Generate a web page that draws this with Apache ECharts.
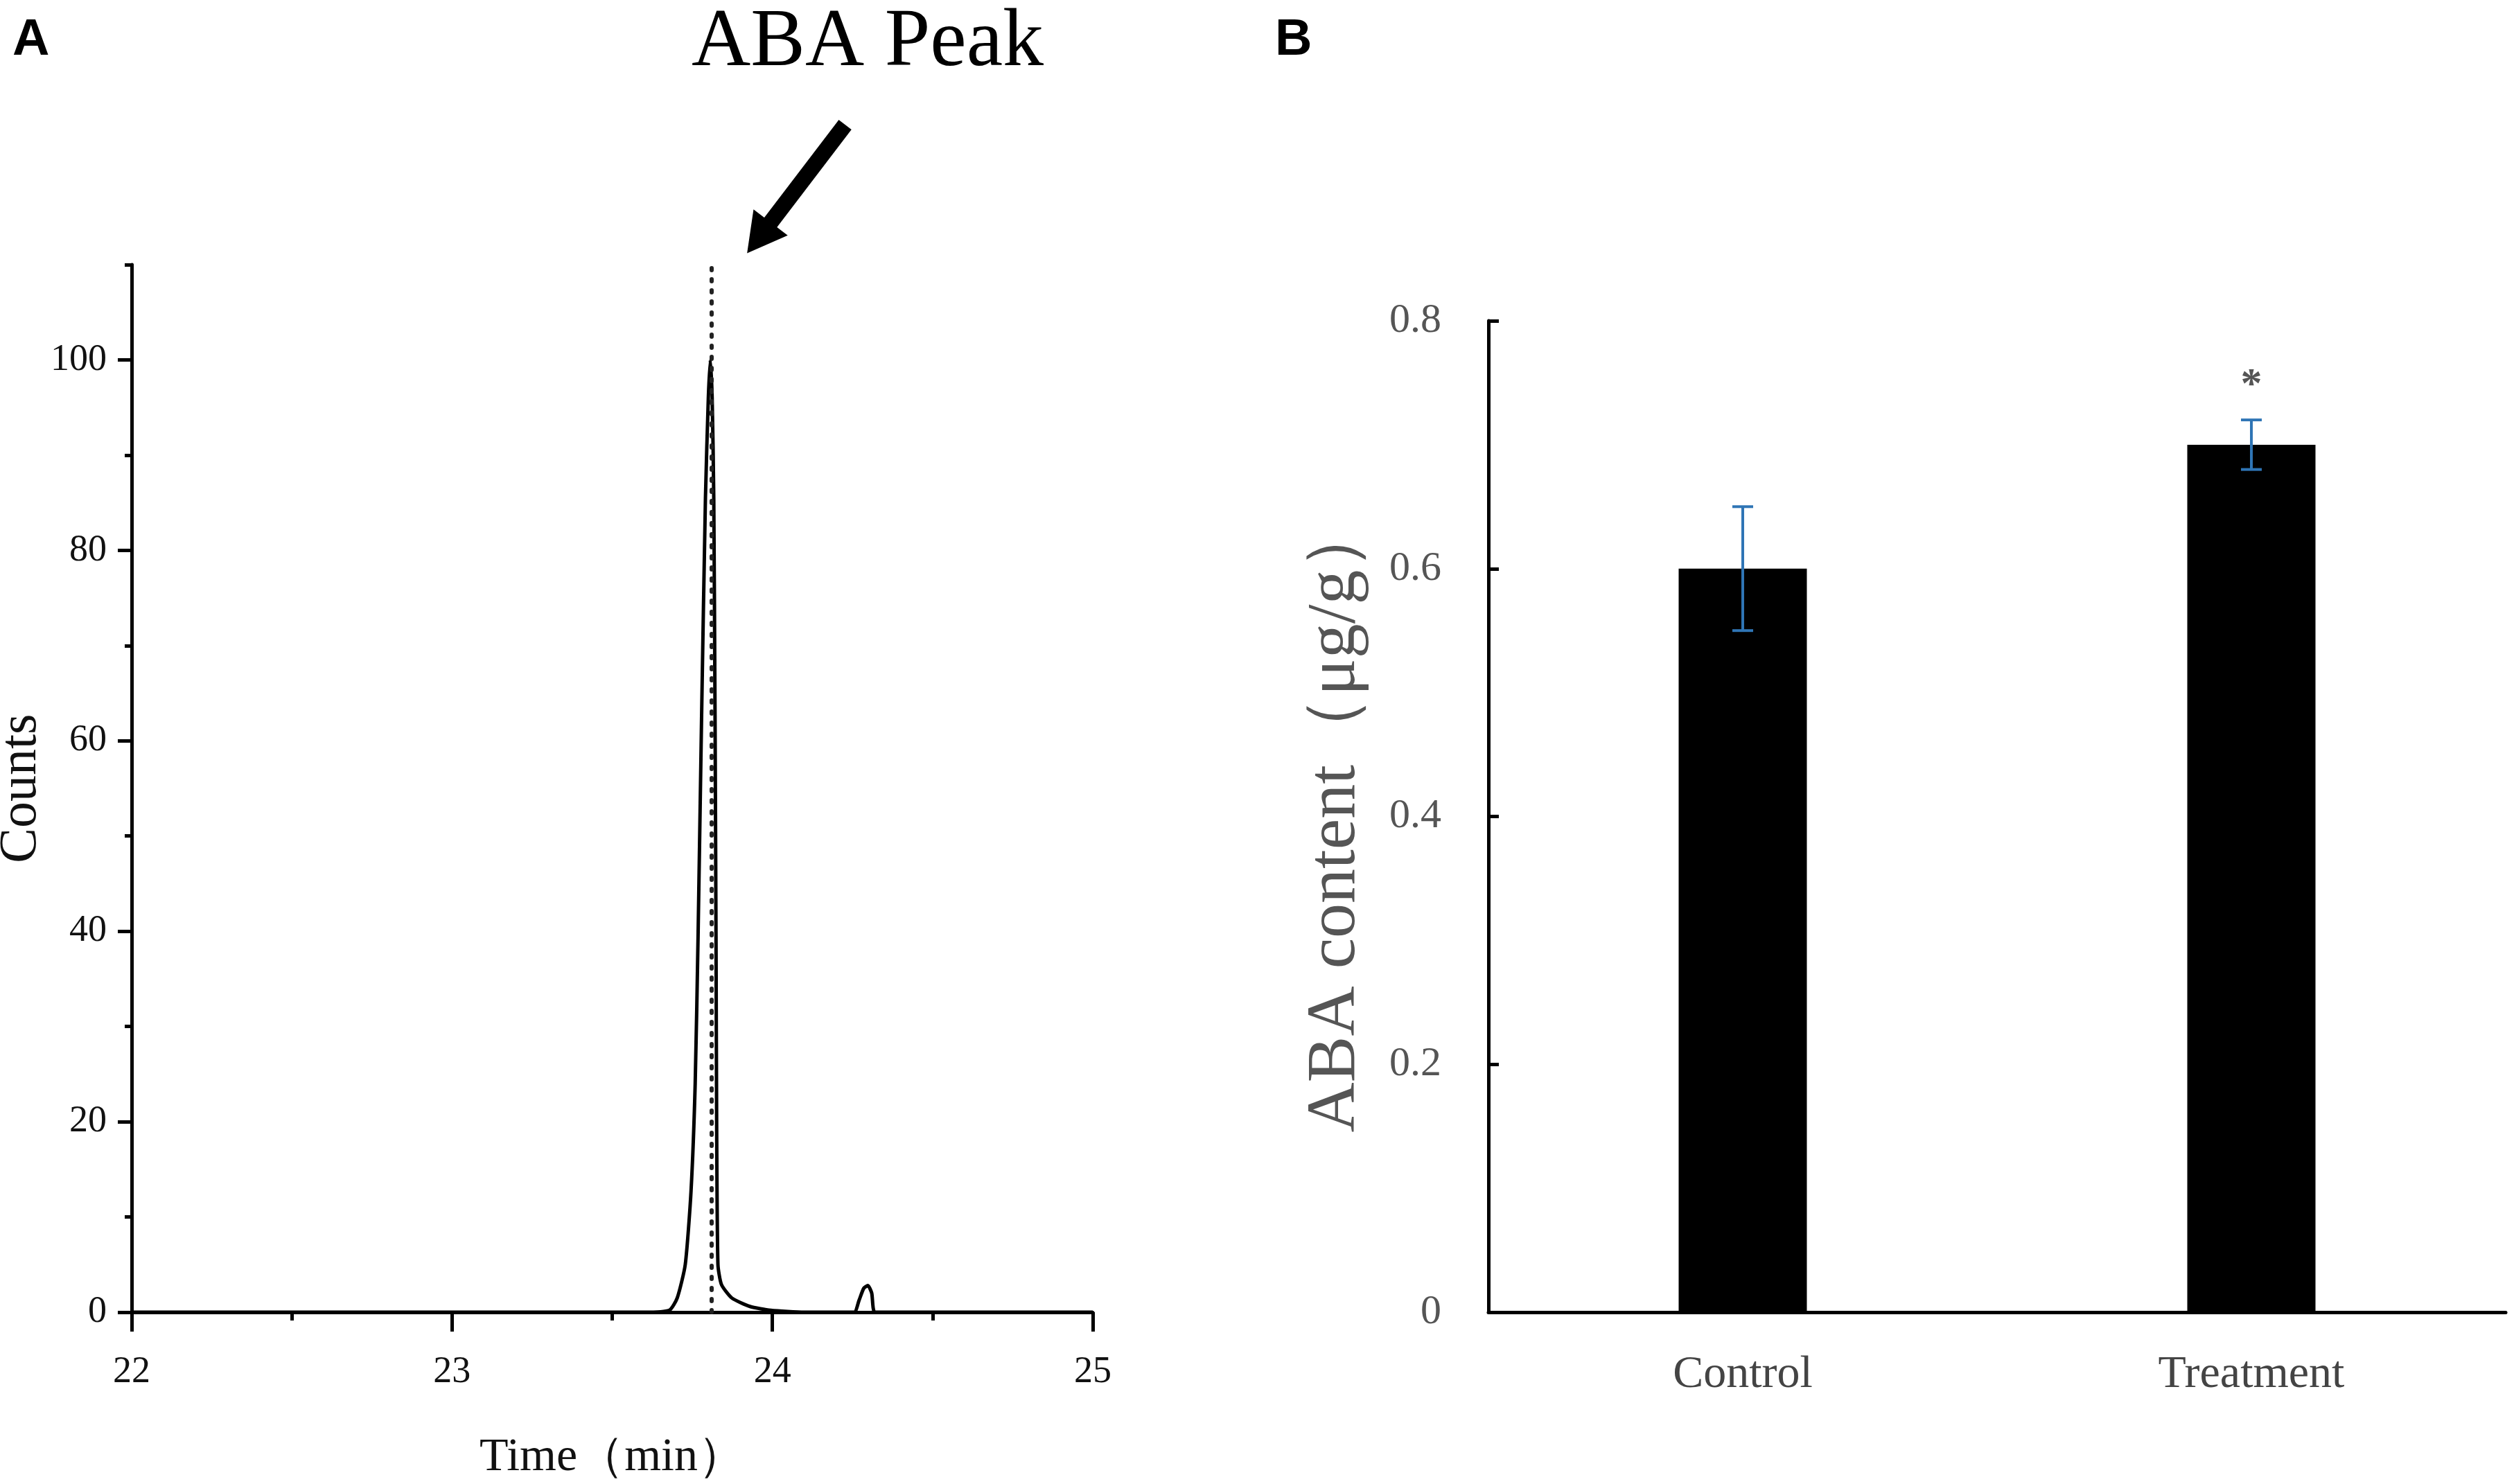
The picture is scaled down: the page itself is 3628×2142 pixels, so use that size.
<!DOCTYPE html>
<html>
<head>
<meta charset="utf-8">
<script src="https://cdn.jsdelivr.net/npm/echarts@6/dist/echarts.min.js"></script>
<style>
  html, body { margin: 0; padding: 0; background: #fff; }
  #main { width: 3628px; height: 2142px; }
</style>
</head>
<body>
<div id="main"></div>
<script>
// panel A: chromatogram (time in min, relative counts)
const timeMin = [22, 23.6, 23.678, 23.703, 23.728, 23.746, 23.759, 23.768, 23.779, 23.791, 23.8, 23.806,
  23.812, 23.817, 23.821, 23.824, 23.826, 23.83, 23.841, 23.873, 23.93, 23.995, 24.1,
  24.255, 24.27, 24.285, 24.298, 24.31, 24.32, 24.4, 25]
const counts = [0, 0, 0.2, 1.5, 5, 12.7, 24, 39.5, 62.6, 85.5, 96, 100,
  96, 85.5, 62.6, 39.5, 20, 5, 2.9, 1.5, 0.6, 0.2, 0,
  0, 1.2, 2.5, 2.8, 2.0, 0, 0, 0]
const peakTime = 23.806
const countTicks = [0, 20, 40, 60, 80, 100]
const timeTicks = [22, 23, 24, 25]
// arrow pointing at the peak, in data units (time, counts)
const arrowFrom = [24.227, 124.7]
const arrowTo = [23.921, 111.2]

// panel B: ABA content
const groups = ['Control', 'Treatment']
const abaMean = [0.6, 0.7]
const abaErr = [0.05, 0.02]
const sigMarks = ['', '*']

const serif = 'Liberation Serif'
let chart = echarts.init(document.getElementById('main'))

let option = {
  backgroundColor: '#fff',
  animation: false,
  grid: [
    { left: 190, top: 382, width: 1387, bottom: 248, outerBoundsMode: 'none' },
    { left: 2148, top: 463, width: 1468, bottom: 248, outerBoundsMode: 'none' }
  ],
  xAxis: [
    {
      type: 'value', gridIndex: 0, min: timeTicks[0], max: timeTicks[timeTicks.length - 1], interval: 1,
      name: 'Time（min）', nameLocation: 'middle', nameGap: 176,
      nameTextStyle: { fontFamily: serif, fontSize: 68, color: '#111' },
      axisLine: { lineStyle: { color: '#000', width: 5 } },
      axisTick: { inside: false, length: 28, lineStyle: { color: '#000', width: 5 } },
      minorTick: { show: true, splitNumber: 2, length: 12, lineStyle: { color: '#000', width: 5 } },
      splitLine: { show: false },
      axisLabel: { fontFamily: serif, fontSize: 54, color: '#111', margin: 60 }
    },
    {
      type: 'category', gridIndex: 1, data: groups,
      axisLine: { lineStyle: { color: '#000', width: 5 } },
      axisTick: { show: false },
      axisLabel: { fontFamily: serif, fontSize: 66, color: '#444', margin: 58 }
    }
  ],
  yAxis: [
    {
      type: 'value', gridIndex: 0, position: 'left', min: 0, max: 110, interval: 20,
      name: 'Counts', nameLocation: 'middle', nameGap: 106,
      nameTextStyle: { fontFamily: serif, fontSize: 76, color: '#111' },
      axisLine: { show: true, lineStyle: { color: '#000', width: 5 } },
      axisTick: { show: true, length: 20, customValues: countTicks, lineStyle: { color: '#000', width: 5 } },
      axisLabel: { fontFamily: serif, fontSize: 54, color: '#111', margin: 36, customValues: countTicks },
      splitLine: { show: false }
    },
    {
      type: 'value', gridIndex: 0, position: 'left', offset: 0, min: 0, max: 110, interval: 10,
      axisLine: { show: false },
      axisTick: { show: true, length: 10, lineStyle: { color: '#000', width: 5 } },
      axisLabel: { show: false },
      splitLine: { show: false }
    },
    {
      type: 'value', gridIndex: 1, min: 0, max: 0.8, interval: 0.2,
      name: 'ABA content（μg/g）', nameLocation: 'middle', nameGap: 170,
      nameTextStyle: { fontFamily: serif, fontSize: 100, color: '#555' },
      axisLine: { show: true, lineStyle: { color: '#000', width: 5 } },
      axisTick: { show: true, inside: true, length: 15, lineStyle: { color: '#000', width: 5 } },
      axisLabel: { fontFamily: serif, fontSize: 60, color: '#555', margin: 68 },
      splitLine: { show: false }
    }
  ],
  series: [
    {
      type: 'line', xAxisIndex: 0, yAxisIndex: 0,
      data: timeMin.map((t, i) => [t, counts[i]]),
      showSymbol: false, smooth: 0.2,
      lineStyle: { color: '#000', width: 5 },
      markLine: {
        silent: true, symbol: 'none', label: { show: false },
        data: [
          { xAxis: peakTime, lineStyle: { color: '#222', width: 6, type: [3, 13], cap: 'round' } }
        ]
      }
    },
    {
      type: 'bar', xAxisIndex: 1, yAxisIndex: 2,
      data: abaMean, barWidth: 185,
      itemStyle: { color: '#000' }
    },
    {
      type: 'custom', xAxisIndex: 1, yAxisIndex: 2, z: 5,
      data: abaMean.map((m, i) => [i, m - abaErr[i], m + abaErr[i]]),
      renderItem: function (params, api) {
        let x = api.value(0)
        let lo = api.coord([x, api.value(1)])
        let hi = api.coord([x, api.value(2)])
        let st = { stroke: '#2f75b5', lineWidth: 4 }
        let kids = [
          { type: 'line', shape: { x1: lo[0], y1: lo[1], x2: hi[0], y2: hi[1] }, style: st },
          { type: 'line', shape: { x1: lo[0] - 15, y1: lo[1], x2: lo[0] + 15, y2: lo[1] }, style: st },
          { type: 'line', shape: { x1: hi[0] - 15, y1: hi[1], x2: hi[0] + 15, y2: hi[1] }, style: st }
        ]
        let s = sigMarks[params.dataIndex]
        if (s) {
          kids.push({ type: 'text', style: { text: s, x: hi[0], y: hi[1] - 18, textAlign: 'center', textVerticalAlign: 'bottom', font: 'bold 62px "Liberation Serif"', fill: '#555' } })
        }
        return { type: 'group', children: kids }
      }
    }
  ]
}
chart.setOption(option)

// arrow + labels, placed after the axes exist
let p0 = chart.convertToPixel({ xAxisIndex: 0, yAxisIndex: 0 }, arrowFrom)
let p1 = chart.convertToPixel({ xAxisIndex: 0, yAxisIndex: 0 }, arrowTo)
let dx = p1[0] - p0[0], dy = p1[1] - p0[1]
let len = Math.sqrt(dx * dx + dy * dy)
let ux = dx / len, uy = dy / len, nx = -uy, ny = ux
let headLen = 56, headW = 31
let base = [p1[0] - ux * headLen, p1[1] - uy * headLen]

chart.setOption({
  graphic: [
    { type: 'text', left: 18, top: 22, style: { text: 'A', font: 'bold 74px "Liberation Sans"', fill: '#000' } },
    { type: 'text', left: 1840, top: 22, style: { text: 'B', font: 'bold 74px "Liberation Sans"', fill: '#000' } },
    { type: 'text', x: 1252, y: 4, style: { text: 'ABA Peak', font: '118px "Liberation Serif"', fill: '#000', textAlign: 'center', textVerticalAlign: 'top' } },
    { type: 'line', shape: { x1: p0[0], y1: p0[1], x2: base[0] + ux * 4, y2: base[1] + uy * 4 }, style: { stroke: '#000', lineWidth: 23 } },
    {
      type: 'polygon',
      shape: { points: [p1, [base[0] + nx * headW, base[1] + ny * headW], [base[0] - nx * headW, base[1] - ny * headW]] },
      style: { fill: '#000' }
    }
  ]
})
</script>
</body>
</html>
